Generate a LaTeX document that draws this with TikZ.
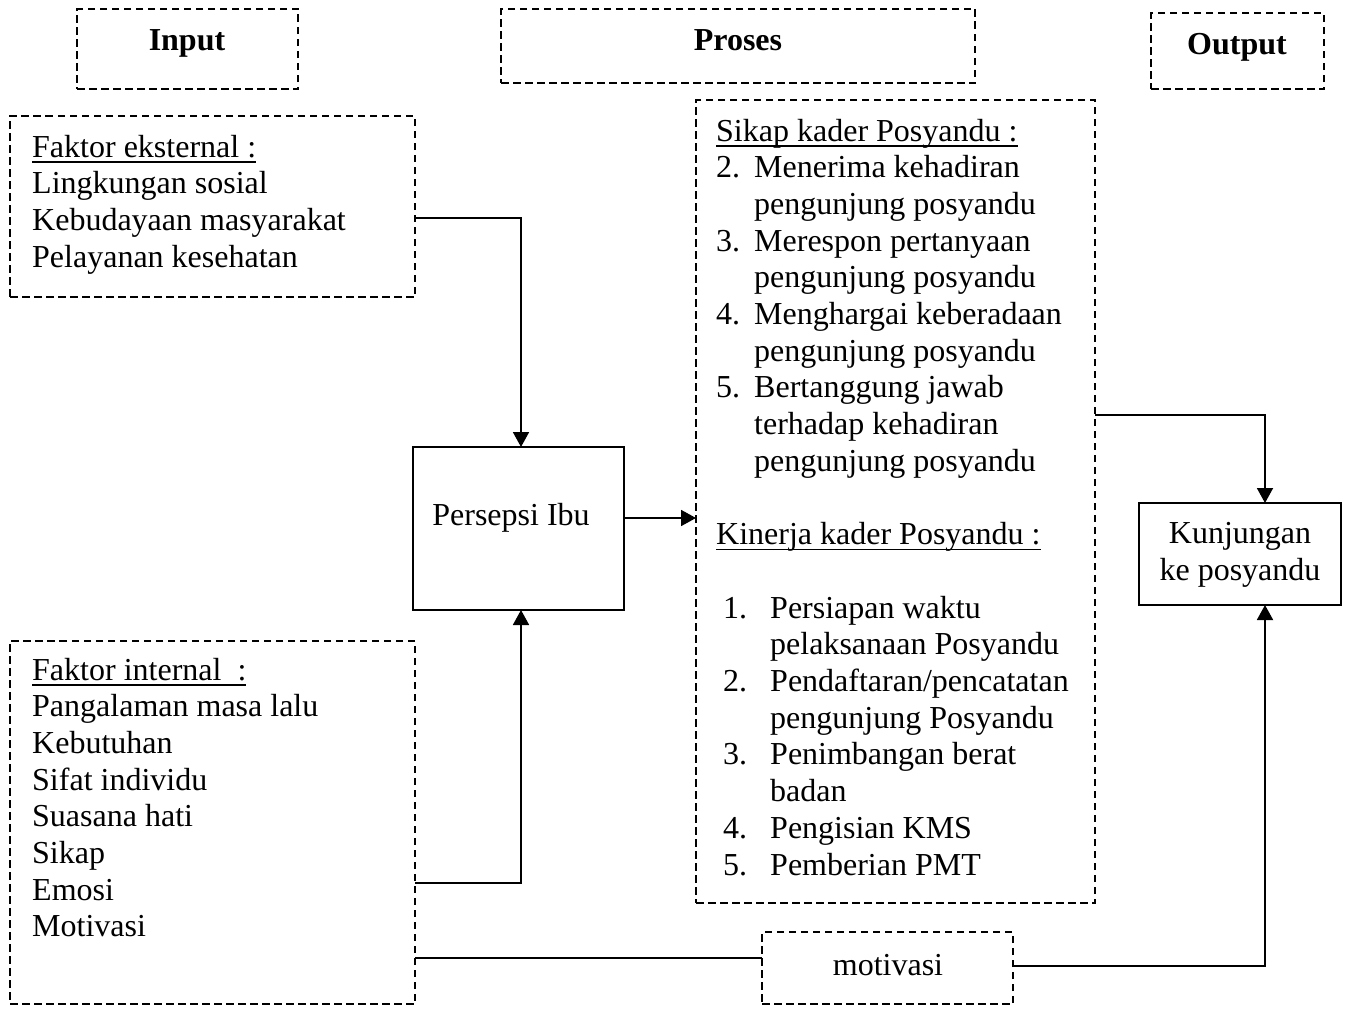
\documentclass[tikz,border=0pt]{standalone}
\usepackage{fontspec}
\setmainfont{Liberation Serif}
\usetikzlibrary{arrows.meta}
\newcommand\myul[1]{\setbox0\hbox{#1}\rlap{\rule[-5.5pt]{\wd0}{1.6pt}}#1}
\begin{document}
\begin{tikzpicture}[x=1pt,y=-1pt,
  box/.style={draw, line width=1.8pt, outer sep=0pt, inner sep=0pt},
  dbox/.style={box, dash pattern=on 7.5pt off 4.5pt},
  txt/.style={inner sep=0pt, anchor=base west, font=\fontsize{32}{37}\selectfont},
  ctxt/.style={txt, anchor=base},
  htxt/.style={ctxt, font=\fontsize{32}{37}\selectfont\bfseries},
  conn/.style={line width=1.8pt},
  arr/.style={conn, -{Triangle[length=15pt,width=16pt]}}]
\useasboundingbox (0,0) rectangle (1347,1009);

% header boxes
\node[dbox, minimum width=221pt, minimum height=80pt] (inp) at (187.5,49) {};
\node[dbox, minimum width=474pt, minimum height=74pt] (pro) at (738,46) {};
\node[dbox, minimum width=173pt, minimum height=76pt] (out) at (1237.5,51) {};
\node[htxt] (inpT) at (187,50) {Input};
\node[htxt] (proT) at (738,50) {Proses};
\node[htxt] (outT) at (1237,54) {Output};

% main boxes
\node[dbox, minimum width=405pt, minimum height=181pt] (ext) at (212.5,206.5) {};
\node[dbox, minimum width=405pt, minimum height=363pt] (int) at (212.5,822.5) {};
\node[box,  minimum width=211pt, minimum height=163pt] (pers) at (518.5,528.5) {};
\node[dbox, minimum width=399pt, minimum height=803pt] (big) at (895.5,501.5) {};
\node[box,  minimum width=202pt, minimum height=102pt] (kun) at (1240,554) {};
\node[dbox, minimum width=251pt, minimum height=72pt] (mot) at (887.5,968) {};

% texts
\foreach \t [count=\i from 0] in {{\myul{Faktor eksternal :}}, Lingkungan sosial, Kebudayaan masyarakat, Pelayanan kesehatan}
  \node[txt] (ext-\i) at (32,{157+36.7*\i}) {\t};
\foreach \t [count=\i from 0] in {{\myul{Faktor internal\ \ :}}, Pangalaman masa lalu, Kebutuhan, Sifat individu, Suasana hati, Sikap, Emosi, Motivasi}
  \node[txt] (int-\i) at (32,{680+36.7*\i}) {\t};
\node[ctxt] (persT) at (511,525) {Persepsi Ibu};
\node[ctxt] (kunT1) at (1240,543) {Kunjungan};
\node[ctxt] (kunT2) at (1240,580) {ke posyandu};
\node[ctxt] (motT) at (888,975) {motivasi};

\foreach \k/\x/\t in {0/716/{\myul{Sikap kader Posyandu :}},
    1/716/{2.}, 1/754/{Menerima kehadiran}, 2/754/{pengunjung posyandu},
    3/716/{3.}, 3/754/{Merespon pertanyaan}, 4/754/{pengunjung posyandu},
    5/716/{4.}, 5/754/{Menghargai keberadaan}, 6/754/{pengunjung posyandu},
    7/716/{5.}, 7/754/{Bertanggung jawab}, 8/754/{terhadap kehadiran}, 9/754/{pengunjung posyandu},
    11/716/{\myul{Kinerja kader Posyandu :}},
    13/723/{1.}, 13/770/{Persiapan waktu}, 14/770/{pelaksanaan Posyandu},
    15/723/{2.}, 15/770/{Pendaftaran/pencatatan}, 16/770/{pengunjung Posyandu},
    17/723/{3.}, 17/770/{Penimbangan berat}, 18/770/{badan},
    19/723/{4.}, 19/770/{Pengisian KMS},
    20/723/{5.}, 20/770/{Pemberian PMT}}
  \node[txt] (big-\k-\x) at (\x,{141+36.7*\k}) {\t};

% connectors
\draw[arr] (ext.east |- 0,218) -| (pers.north -| 521,0);
\draw[arr] (int.east |- 0,883) -| (pers.south -| 521,0);
\draw[arr] (pers.east |- 0,518) -- (big.west |- 0,518);
\draw[arr] (big.east |- 0,415) -| (kun.north -| 1265,0);
\draw[conn] (int.east |- 0,958) -- (mot.west |- 0,958);
\draw[arr] (mot.east |- 0,966) -| (kun.south -| 1265,0);
\end{tikzpicture}
\end{document}
